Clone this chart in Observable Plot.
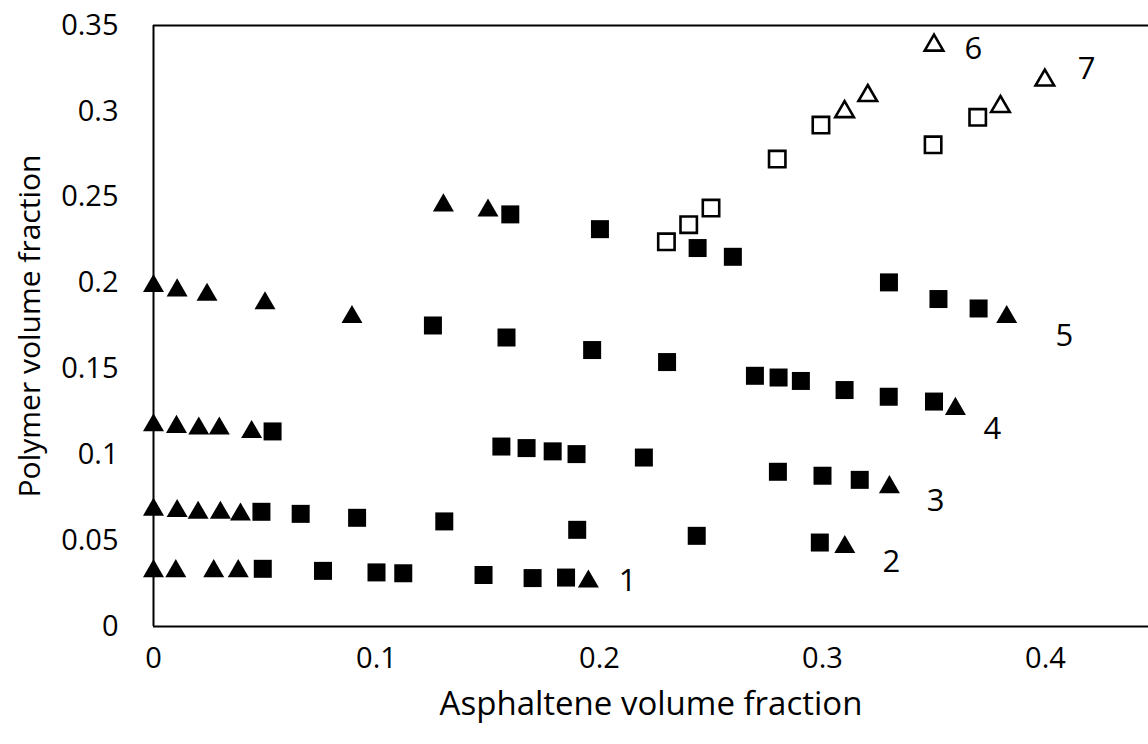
<!DOCTYPE html>
<html>
<head>
<meta charset="utf-8">
<script src="https://cdn.jsdelivr.net/npm/d3@7"></script>
<script src="https://cdn.jsdelivr.net/npm/@observablehq/plot@0.6"></script>
<style>
  html, body { margin: 0; padding: 0; background: #ffffff; }
  #chart { width: 1148px; height: 744px; }
</style>
</head>
<body>
<div id="chart"></div>
<script>
// ---------- Data ----------
// Curve 1
const s1TriX = [0, 0.010, 0.027, 0.038, 0.195];
const s1TriY = [0.034, 0.034, 0.034, 0.034, 0.028];
const s1SqX  = [0.049, 0.076, 0.100, 0.112, 0.148, 0.170, 0.185];
const s1SqY  = [0.0336, 0.0324, 0.0315, 0.031, 0.030, 0.0282, 0.0285];
// Curve 2
const s2TriX = [0, 0.0106, 0.020, 0.030, 0.039, 0.310];
const s2TriY = [0.0698, 0.069, 0.068, 0.068, 0.067, 0.048];
const s2SqX  = [0.0484, 0.066, 0.0913, 0.1304, 0.190, 0.2436, 0.2988];
const s2SqY  = [0.0668, 0.0656, 0.0633, 0.0612, 0.0563, 0.0528, 0.0489];
// Curve 3
const s3TriX = [0, 0.0103, 0.0203, 0.0295, 0.044, 0.330];
const s3TriY = [0.119, 0.118, 0.117, 0.117, 0.115, 0.0829];
const s3SqX  = [0.0534, 0.156, 0.1673, 0.179, 0.1897, 0.2199, 0.280, 0.300, 0.3167];
const s3SqY  = [0.1136, 0.1048, 0.1039, 0.102, 0.1004, 0.0984, 0.0901, 0.0878, 0.0854];
// Curve 4
const s4TriX = [0, 0.0106, 0.024, 0.050, 0.089, 0.3596];
const s4TriY = [0.200, 0.1975, 0.195, 0.190, 0.182, 0.1285];
const s4SqX  = [0.1253, 0.1583, 0.1967, 0.2303, 0.2697, 0.2803, 0.2903, 0.3099, 0.3297, 0.350];
const s4SqY  = [0.1753, 0.1683, 0.161, 0.154, 0.146, 0.145, 0.143, 0.1377, 0.1338, 0.131];
// Curve 5
const s5TriX = [0.130, 0.150, 0.3826];
const s5TriY = [0.247, 0.244, 0.182];
const s5SqX  = [0.160, 0.2002, 0.244, 0.2598, 0.3298, 0.352, 0.370];
const s5SqY  = [0.240, 0.2314, 0.2204, 0.2153, 0.2004, 0.1907, 0.1852];
// Curve 6 (open markers)
const s6SqX  = [0.230, 0.240, 0.250, 0.2797, 0.2993];
const s6SqY  = [0.224, 0.234, 0.2437, 0.2722, 0.292];
const s6TriX = [0.3099, 0.3203, 0.350];
const s6TriY = [0.3013, 0.3107, 0.340];
// Curve 7 (open markers)
const s7SqX  = [0.3496, 0.3696];
const s7SqY  = [0.2805, 0.2965];
const s7TriX = [0.3798, 0.3997];
const s7TriY = [0.3043, 0.3197];

// Curve number labels
const curveLabels = ["1", "2", "3", "4", "5", "6", "7"];
const curveLabelX = [0.2126, 0.3309, 0.3507, 0.3762, 0.4085, 0.3677, 0.4184];
const curveLabelY = [0.0266, 0.0374, 0.0732, 0.1152, 0.1693, 0.3365, 0.3248];

// Axes
const xTicks = [0, 0.1, 0.2, 0.3, 0.4];
const yTicks = [0, 0.05, 0.1, 0.15, 0.2, 0.25, 0.3, 0.35];
const xTitle = "Asphaltene volume fraction";
const yTitle = "Polymer volume fraction";

// ---------- Build tables ----------
const pts = (xs, ys) => xs.map((x, i) => ({x, y: ys[i]}));
const filledTri = [s1TriX, s2TriX, s3TriX, s4TriX, s5TriX].flatMap((xs, k) =>
  pts(xs, [s1TriY, s2TriY, s3TriY, s4TriY, s5TriY][k]));
const filledSq = [s1SqX, s2SqX, s3SqX, s4SqX, s5SqX].flatMap((xs, k) =>
  pts(xs, [s1SqY, s2SqY, s3SqY, s4SqY, s5SqY][k]));
const openSq = pts(s6SqX, s6SqY).concat(pts(s7SqX, s7SqY));
const openTri = pts(s6TriX, s6TriY).concat(pts(s7TriX, s7TriY));
const labels = curveLabels.map((t, i) => ({t, x: curveLabelX[i], y: curveLabelY[i]}));

// ---------- Symbols (bbox-centred, like spreadsheet markers) ----------
const squareSym = {draw(ctx, size) { const r = Math.sqrt(size / Math.PI); ctx.rect(-r, -r, 2 * r, 2 * r); }};
const triSym = {draw(ctx, size) {
  const r = Math.sqrt(size / Math.PI); const h = r * 1.72;
  ctx.moveTo(0, -h / 2); ctx.lineTo(r, h / 2); ctx.lineTo(-r, h / 2); ctx.closePath();
}};

// ---------- Layout ----------
const W = 1148, H = 744, mL = 153, mT = 25, mB = 118;
const pxPerUnitX = 2230;
const xMax = (W - mL) / pxPerUnitX;

const chart = Plot.plot({
  width: W, height: H,
  marginLeft: mL, marginRight: 0, marginTop: mT, marginBottom: mB,
  style: {fontFamily: "'Open Sans', sans-serif", background: "#ffffff", color: "#000000"},
  x: {domain: [0, xMax]},
  y: {domain: [0, 0.35]},
  marks: [
    Plot.axisX({ticks: xTicks, tickSize: 0, tickPadding: 21, fontSize: 29, tickFormat: d => String(d), label: null}),
    Plot.axisY({ticks: yTicks, tickSize: 0, tickPadding: 35, fontSize: 29, tickFormat: d => String(d), label: null}),
    Plot.ruleY([0, 0.35], {stroke: "#000", strokeWidth: 2}),
    Plot.ruleX([0], {stroke: "#000", strokeWidth: 2}),
    Plot.dot(filledSq, {x: "x", y: "y", symbol: squareSym, r: 9, fill: "#000", stroke: "none"}),
    Plot.dot(filledTri, {x: "x", y: "y", symbol: triSym, r: 10.5, fill: "#000", stroke: "none"}),
    Plot.dot(openSq, {x: "x", y: "y", symbol: squareSym, r: 8.2, fill: "none", stroke: "#000", strokeWidth: 2.6}),
    Plot.dot(openTri, {x: "x", y: "y", symbol: triSym, r: 9.3, fill: "none", stroke: "#000", strokeWidth: 2.6, strokeLinejoin: "miter"}),
    Plot.text(labels, {x: "x", y: "y", text: "t", fontSize: 31, fill: "#000", textAnchor: "middle"}),
    Plot.text([xTitle], {frameAnchor: "bottom", dy: 88, fontSize: 33, fill: "#000", textAnchor: "middle"}),
    Plot.text([yTitle], {frameAnchor: "left", dx: -123, rotate: -90, fontSize: 30, fill: "#000", textAnchor: "middle"})
  ]
});
document.getElementById("chart").appendChild(chart);
</script>
</body>
</html>
